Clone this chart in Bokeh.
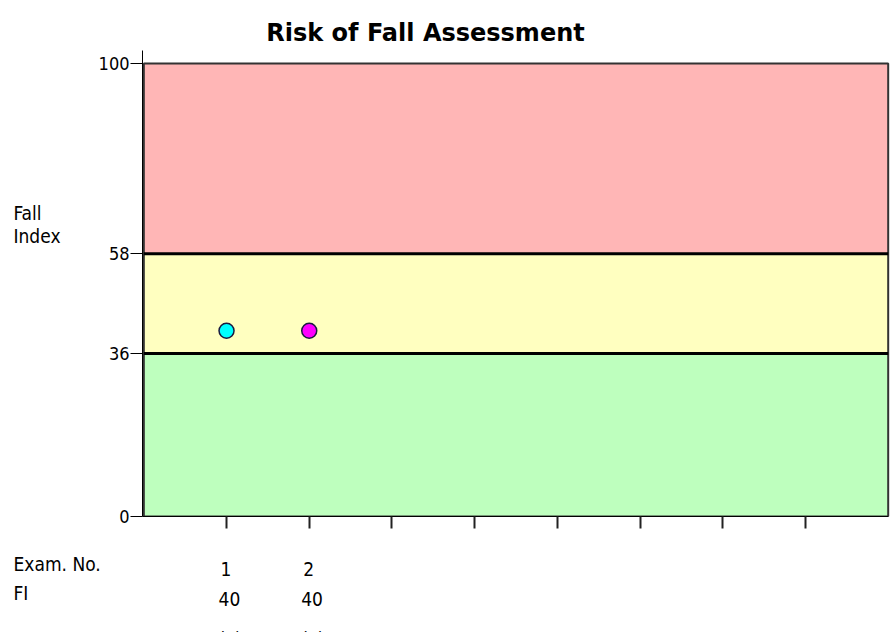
from bokeh.plotting import figure
from bokeh.layouts import column, row
from bokeh.models import Range1d, FixedTicker
from bokeh.core.properties import value
from bokeh.embed import file_html
from bokeh.resources import INLINE

# ---- data ----
exam_numbers = [1, 2]
fi_plotted = [41, 41]          # position of the points
fi_labels = ["40", "40"]       # FI values printed under the axis
third_row = ["(F)", "(F)"]     # third table row (cut off at bottom edge)
point_colors = ["#00FFFF", "#FF00FF"]
band_bottoms = [0, 36, 58]
band_tops = [36, 58, 100]
band_colors = ["#BEFFBE", "#FFFFC0", "#FFB6B6"]
thresholds = [36, 58]
y_ticks = [0, 36, 58, 100]
x_ticks = [1, 2, 3, 4, 5, 6, 7, 8]
x_max = 9
title_text = "Risk of Fall Assessment"
y_title = ["Fall", "Index"]
row_titles = ["Exam. No.", "FI"]

FONT = "DejaVu Sans Condensed, Liberation Sans"
FS = "19px"

# ---- layout (page pixels) ----
W, H = 893, 632
FL, FT, FB, FR = 142, 50, 516, 891     # main frame edges
LEFT_W = 95                           # width of the left text strip
BOTTOM_PAD = 20                       # room for x ticks under frame
MAIN_H = FB - FT + BOTTOM_PAD
BOT_H = H - FT - MAIN_H
X0, X1 = -0.016, 9.04
scale = (FR - FL) / (X1 - X0)


def text_fig(w, h, xr, yr):
    f = figure(width=w, height=h, output_backend="svg", toolbar_location=None,
               x_range=xr, y_range=yr, x_axis_type=None, y_axis_type=None,
               min_border=0)
    f.outline_line_color = None
    f.grid.visible = False
    f.background_fill_color = "white"
    f.border_fill_color = "white"
    return f


def put(f, xs, ys, texts, align="left", xoff=0, font=FONT, size=FS, bold=False):
    f.text(x=xs, y=ys, text=texts, text_align=align, text_baseline="alphabetic",
           x_offset=xoff, text_font=value(font), text_font_size=value(size),
           text_font_style="bold" if bold else "normal", text_color="black")


# title strip (y measured downward from its top)
t = text_fig(W, FT, Range1d(0, W), Range1d(FT, 0))
put(t, [425], [32], [title_text], align="center", font="DejaVu Sans",
    size="24px", bold=True)

# left strip
lf = text_fig(LEFT_W, MAIN_H, Range1d(0, LEFT_W), Range1d(MAIN_H, 0))
put(lf, [13, 13], [219 - FT, 243 - FT], y_title)

# main chart
p = figure(width=W - LEFT_W, height=MAIN_H, output_backend="svg",
           toolbar_location=None, x_range=Range1d(X0, X1),
           y_range=Range1d(0, 100 + 13 / ((FB - 63) / 100)),
           min_border_left=FL - LEFT_W, min_border_right=W - FR,
           min_border_top=0, min_border_bottom=BOTTOM_PAD)
p.outline_line_color = None
p.grid.visible = False
p.background_fill_color = "white"
p.border_fill_color = "white"

p.quad(left=0, right=x_max, bottom=band_bottoms, top=band_tops,
       fill_color=band_colors, line_color=None)
p.quad(left=[0], right=[x_max], bottom=[0], top=[band_tops[-1]],
       fill_color=None, line_color="#333333", line_width=2)
p.segment(x0=[0] * len(thresholds), x1=[x_max] * len(thresholds),
          y0=thresholds, y1=thresholds, line_color="black", line_width=3)
p.scatter(exam_numbers, fi_plotted, size=15, fill_color=point_colors,
          line_color="#1a1a40", line_width=1.5)

ya = p.yaxis[0]
ya.ticker = FixedTicker(ticks=y_ticks)
ya.minor_tick_line_color = None
ya.major_tick_in = 0
ya.major_tick_out = 12
ya.major_label_standoff = 1
ya.axis_line_color = "black"
ya.major_tick_line_color = "black"
ya.major_label_text_font = FONT
ya.major_label_text_font_size = "18px"
ya.major_label_text_color = "black"

xa = p.xaxis[0]
xa.ticker = FixedTicker(ticks=x_ticks)
xa.minor_tick_line_color = None
xa.major_tick_in = 0
xa.major_tick_out = 12
xa.major_tick_line_width = 2
xa.major_tick_line_color = "#222222"
xa.axis_line_color = "black"
xa.bounds = (X0, x_max)
xa.major_label_overrides = {tk: "" for tk in x_ticks}
xa.major_label_text_font_size = "0px"
xa.major_label_standoff = 0

# bottom table strip, sharing the main x scale
bx0 = X0 - FL / scale
bx1 = X1 + (W - FR) / scale
top_b = FB + BOTTOM_PAD
b = text_fig(W, BOT_H, Range1d(bx0, bx1), Range1d(BOT_H, 0))
put(b, [bx0, bx0], [563 - top_b, 592 - top_b], row_titles, xoff=13)
put(b, exam_numbers, [568 - top_b] * len(exam_numbers),
    [str(n) for n in exam_numbers], xoff=-6)
put(b, exam_numbers, [598 - top_b] * len(exam_numbers), fi_labels, xoff=-8)
put(b, exam_numbers, [638 - top_b] * len(exam_numbers), third_row, xoff=-8)

layout = column(t, row(lf, p), b)
open("out.html", "w").write(file_html(layout, INLINE))
